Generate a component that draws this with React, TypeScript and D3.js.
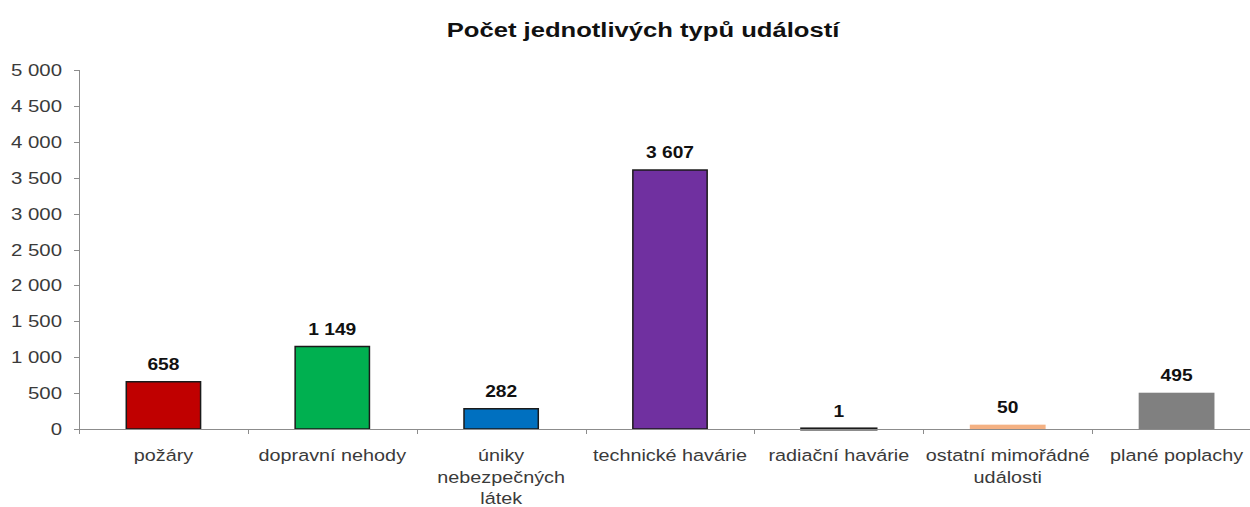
import * as d3 from "d3";
import { useEffect, useRef } from "react";

const title = "Počet jednotlivých typů událostí";
const categories = [
  ["požáry"],
  ["dopravní nehody"],
  ["úniky", "nebezpečných", "látek"],
  ["technické havárie"],
  ["radiační havárie"],
  ["ostatní mimořádné", "události"],
  ["plané poplachy"],
];
const values = [658, 1149, 282, 3607, 1, 50, 495];
const colors = ["#c00000", "#00b050", "#0070c0", "#7030a0", "#111111", "#f4b183", "#808080"];
const outlined = [true, true, true, true, true, false, false];
const yTicks = [0, 500, 1000, 1500, 2000, 2500, 3000, 3500, 4000, 4500, 5000];

const W = 1250;
const H = 507;
const FONT = "'Liberation Sans', Arial, sans-serif";
// the source picture looks stretched sideways, so text is widened a little
const SX = 1.2;

const fmt = (v: number) => d3.format(",")(v).replace(/,/g, " ");

export default function App() {
  const ref = useRef<SVGSVGElement>(null);

  useEffect(() => {
    if (!ref.current) return;
    const svg = d3.select(ref.current);
    svg.selectAll("*").remove();

    const keys = categories.map((c) => c.join(" "));
    const x = d3.scaleBand().domain(keys).range([79, 1261]).paddingInner(0.56).paddingOuter(0.28);
    const y = d3.scaleLinear().domain([0, 5000]).range([429, 70]);
    const step = x.step();

    const axisColor = "#8c8c8c";

    // title
    svg
      .append("text")
      .attr("transform", `translate(643,37) scale(1.22,1)`)
      .attr("text-anchor", "middle")
      .attr("font-family", FONT)
      .attr("font-weight", 700)
      .attr("font-size", 21)
      .attr("fill", "#111")
      .text(title);

    // y axis
    svg
      .append("line")
      .attr("x1", 79.5)
      .attr("x2", 79.5)
      .attr("y1", y(5000))
      .attr("y2", y(0))
      .attr("stroke", axisColor);

    svg
      .selectAll(".ytick")
      .data(yTicks)
      .join("line")
      .attr("x1", 74)
      .attr("x2", 79.5)
      .attr("y1", (d) => Math.round(y(d)) + 0.5)
      .attr("y2", (d) => Math.round(y(d)) + 0.5)
      .attr("stroke", axisColor);

    svg
      .selectAll(".ylab")
      .data(yTicks)
      .join("text")
      .attr("transform", (d) => `translate(62,${y(d) + 6}) scale(${SX},1)`)
      .attr("text-anchor", "end")
      .attr("font-family", FONT)
      .attr("font-size", 17)
      .attr("fill", "#3a3a3a")
      .text((d) => fmt(d));

    // bars
    svg
      .selectAll(".bar")
      .data(values)
      .join("rect")
      .attr("x", (_, i) => x(keys[i])!)
      .attr("width", x.bandwidth())
      .attr("y", (d) => y(d))
      .attr("height", (d) => y(0) - y(d))
      .attr("fill", (_, i) => colors[i])
      .attr("stroke", (_, i) => (outlined[i] ? "#1a1a1a" : colors[i]))
      .attr("stroke-width", (d) => (d < 10 ? 3 : 1.5));

    // x axis
    svg
      .append("line")
      .attr("x1", 79)
      .attr("x2", 1261)
      .attr("y1", y(0) + 0.5)
      .attr("y2", y(0) + 0.5)
      .attr("stroke", axisColor);

    svg
      .selectAll(".xtick")
      .data(d3.range(keys.length + 1))
      .join("line")
      .attr("x1", (i) => Math.round(79 + i * step) + 0.5)
      .attr("x2", (i) => Math.round(79 + i * step) + 0.5)
      .attr("y1", y(0))
      .attr("y2", y(0) + 5)
      .attr("stroke", axisColor);

    // value labels
    svg
      .selectAll(".val")
      .data(values)
      .join("text")
      .attr(
        "transform",
        (d, i) => `translate(${x(keys[i])! + x.bandwidth() / 2},${y(d) - 12}) scale(${SX},1)`
      )
      .attr("text-anchor", "middle")
      .attr("font-family", FONT)
      .attr("font-weight", 700)
      .attr("font-size", 16)
      .attr("fill", "#111")
      .text((d) => fmt(d));

    // category labels
    const cat = svg
      .selectAll(".cat")
      .data(categories)
      .join("g")
      .attr("transform", (_, i) => `translate(${x(keys[i])! + x.bandwidth() / 2},461)`);

    cat
      .selectAll("text")
      .data((d) => d)
      .join("text")
      .attr("transform", (_, j) => `translate(0,${j * 21.5}) scale(${SX},1)`)
      .attr("text-anchor", "middle")
      .attr("font-family", FONT)
      .attr("font-size", 16.5)
      .attr("fill", "#3a3a3a")
      .text((d) => d);
  }, []);

  return (
    <div style={{ position: "absolute", left: 0, top: 0 }}>
      <svg ref={ref} width={W} height={H} style={{ display: "block", background: "#fff" }} />
    </div>
  );
}
